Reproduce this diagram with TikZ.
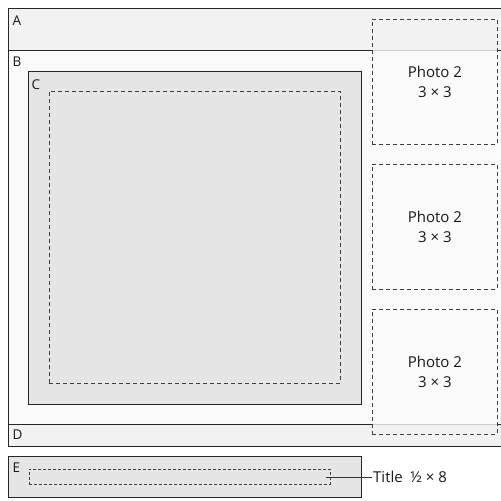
\documentclass[tikz,border=0pt]{standalone}
\usepackage{fontspec}
\setmainfont{Open Sans}
\begin{document}
\begin{tikzpicture}[x=1pt,y=-1pt,
  frame/.style={draw=black!85,line width=0.9pt},
  faint/.style={draw=black!20,line width=0.9pt},
  dbox/.style={draw=black!75,dashed,dash pattern=on 4pt off 3pt,line width=0.8pt},
  lbl/.style={anchor=base west,inner sep=0pt,font=\fontsize{13.5}{15}\selectfont,text=black!90},
  ptxt/.style={align=center,font=\fontsize{15}{20}\selectfont,text=black!90}]
\useasboundingbox[fill=white] (0,0) rectangle (501,501);
\fill[fill=black!5] (8,8) rectangle (503,50);
\fill[fill=black!2] (8,50) rectangle (503,424);
\fill[fill=black!5] (8,424) rectangle (503,446);
\draw[frame] (503,8) -- (8,8) -- (8,446) -- (503,446);
\draw[frame] (8,50) -- (372,50);
\draw[faint] (372,50) -- (497,50);
\draw[frame] (497,50) -- (503,50);
\draw[frame] (8,424) -- (372,424);
\draw[faint] (372,424) -- (497,424);
\draw[frame] (497,424) -- (503,424);
\node[lbl] (la) at (12.5,25) {A};
\node[lbl] (lb) at (12.5,66.5) {B};
\node[lbl] (ld) at (12.5,439.5) {D};
% C
\draw[frame,fill=black!10] (28,71) rectangle (361,404);
\node[lbl] (lc) at (31.5,89) {C};
\node[dbox,minimum width=291pt,minimum height=292pt,anchor=north west,inner sep=0pt] (cin) at (49,91) {};
% E
\draw[frame,fill=black!10] (8,456) rectangle (361,497);
\node[lbl] (le) at (12.5,472) {E};
\node[dbox,dash pattern=on 3pt off 2pt,minimum width=301pt,minimum height=15pt,anchor=north west,inner sep=0pt] (ein) at (29,469) {};
\node[anchor=base west,inner sep=0pt,font=\fontsize{15}{17}\selectfont,text=black!90] (title) at (373,482) {Title\enspace ½ × 8};
\draw[black!80,line width=0.8pt] ([xshift=-5pt]ein.east) -- ([xshift=-1pt]title.west |- ein.east);
% photos
\foreach \n/\y in {p1/19,p2/164,p3/309}{
  \node[dbox,minimum width=125pt,minimum height=125pt,anchor=north west,inner sep=0pt] (\n) at (372,\y) {};
  \node[ptxt] at (\n.center) {Photo 2\\3 × 3};
}
\end{tikzpicture}
\end{document}
